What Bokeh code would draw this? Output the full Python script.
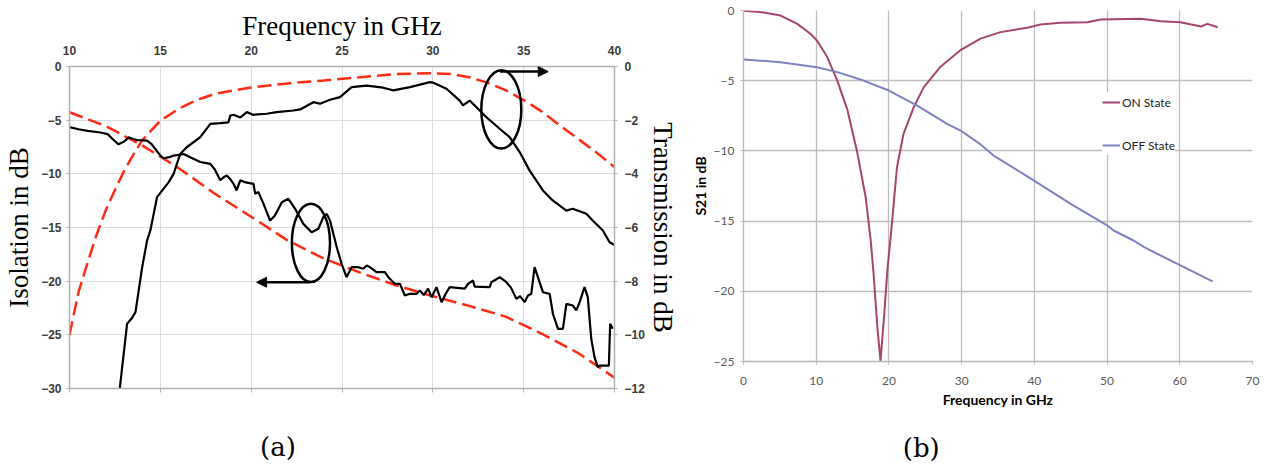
from bokeh.plotting import figure
from bokeh.models import (Range1d, LinearAxis, FixedTicker, Arrow, NormalHead,
                          Legend, LegendItem)
from bokeh.core.properties import value
from bokeh.layouts import row, column
from bokeh.embed import file_html
from bokeh.resources import INLINE

# ---------------- Panel (a) data ----------------
freq_ticks_a = [10, 15, 20, 25, 30, 35, 40]
iso_ticks = [-30, -25, -20, -15, -10, -5, 0]
trans_ticks = [-12, -10, -8, -6, -4, -2, 0]

# measured isolation (left axis, dB)
iso_meas_f = [10.0, 10.5, 11.0, 11.7, 12.1, 12.4, 12.7, 13.0, 13.26, 13.5, 13.72, 14.27, 14.5,
              14.73, 15.0, 15.18, 15.5, 15.73, 16.28, 16.7, 17.2, 17.75, 18.0, 18.3, 18.5, 18.66,
              18.85, 19.03, 19.2, 19.4, 19.7, 20.13, 20.22, 20.4, 20.68, 21.04, 21.3, 21.69, 22.05,
              22.42, 22.87, 23.33, 23.7, 23.97, 24.16, 24.34, 24.71, 24.98, 25.25, 25.53, 25.9,
              26.17, 26.36, 26.54, 26.9, 27.36, 27.55, 27.9, 28.19, 28.46, 28.74, 29.1, 29.29,
              29.5, 29.74, 29.93, 30.2, 30.48, 30.7, 30.93, 31.76, 31.94, 32.21, 32.3, 33.13,
              33.22, 33.68, 34.05, 34.3, 34.6, 34.8, 35.05, 35.24, 35.42, 35.6, 36.06, 36.43,
              36.61, 36.89, 37.16, 37.35, 37.71, 37.9, 38.08, 38.35, 38.53, 38.72, 38.9, 39.08,
              39.18, 39.69, 39.76, 39.9]
iso_meas_db = [-5.65, -5.85, -6.0, -6.15, -6.3, -6.8, -7.25, -7.0, -6.6, -6.75, -6.85, -6.9, -7.2,
               -7.7, -8.3, -8.55, -8.45, -8.3, -8.15, -8.5, -8.9, -9.07, -9.6, -10.6, -10.3, -10.16,
               -10.5, -10.93, -11.55, -10.6, -10.8, -10.93, -11.86, -11.7, -12.8, -14.35, -13.9,
               -12.64, -12.33, -13.26, -14.66, -15.44, -15.12, -14.04, -13.73, -14.35, -16.84,
               -18.38, -19.63, -18.7, -18.7, -18.85, -18.54, -18.7, -19.16, -19.16, -19.63, -20.25,
               -20.25, -21.34, -21.18, -21.18, -20.87, -21.3, -20.7, -21.49, -20.56, -21.96, -21.2,
               -20.56, -20.7, -20.25, -19.94, -20.5, -20.56, -20.1, -19.63, -20.1, -20.6, -21.65,
               -21.4, -21.96, -21.34, -21.18, -18.7, -21.03, -21.18, -23.04, -24.44, -24.44,
               -22.11, -22.27, -22.73, -21.96, -20.56, -21.49, -25.37, -27.08, -28.0, -27.86,
               -27.86, -23.97, -24.44]

# measured transmission (right axis, dB)
trans_meas_f = [12.7, 13.17, 13.44, 13.63, 14.0, 14.27, 14.45, 14.82, 15.46, 15.73, 16.1, 16.47,
                17.2, 17.75, 18.3, 18.75, 18.85, 19.03, 19.4, 19.76, 20.1, 20.86, 21.4, 22.32,
                22.7, 23.42, 23.79, 24.34, 24.89, 25.53, 26.36, 27.27, 27.82, 28.74, 29.84, 30.0,
                30.75, 31.48, 31.66, 32.03, 32.4, 32.95, 33.68, 34.23, 34.78, 35.33, 36.06, 36.6,
                37.35, 37.7, 38.45, 38.8, 39.36, 39.73, 40.0]
trans_meas_db = [-12.4, -9.59, -9.37, -9.16, -7.48, -6.49, -6.11, -4.87, -4.31, -4.0, -3.25, -3.0,
                 -2.63, -2.14, -2.11, -2.08, -1.83, -1.8, -1.9, -1.7, -1.8, -1.76, -1.7, -1.64,
                 -1.6, -1.33, -1.39, -1.24, -1.14, -0.77, -0.71, -0.79, -0.89, -0.77, -0.58, -0.6,
                 -0.83, -1.27, -1.45, -1.27, -1.52, -1.89, -2.32, -2.63, -3.19, -3.88, -4.62,
                 -4.99, -5.37, -5.3, -5.49, -5.74, -6.11, -6.55, -6.65]

# simulated isolation (left axis)
iso_sim_f = [10, 12, 14, 16, 18, 20, 22, 24, 26, 28, 30, 32, 34, 36, 38, 40]
iso_sim_db = [-4.26, -5.55, -7.35, -9.45, -11.85, -14.0, -16.2, -17.9, -19.2, -20.4, -21.4,
              -22.3, -23.3, -24.9, -26.7, -29.0]

# simulated transmission (right axis)
trans_sim_f = [10, 10.5, 11, 11.5, 12, 12.5, 13, 13.5, 14, 15, 16, 17, 18, 20, 22, 24, 26, 28,
               30, 31, 32, 33, 34, 35, 36, 37, 38, 39, 40]
trans_sim_db = [-10.0, -8.4, -7.3, -6.25, -5.35, -4.6, -3.9, -3.3, -2.75, -2.02, -1.58, -1.25,
                -1.02, -0.78, -0.63, -0.52, -0.4, -0.28, -0.25, -0.28, -0.4, -0.6, -0.88, -1.25,
                -1.68, -2.2, -2.7, -3.2, -3.75]

# annotation marks: ellipses (center f, center dB, width GHz, height dB) and arrows
ell_x = [23.29, 33.77]
ell_y = [-16.44, -4.0]
ell_w = [2.1, 2.2]
ell_h = [7.3, 7.3]
arrow_left = (23.24, -20.1, 20.3, -20.1)
arrow_right = (33.7, -0.47, 36.35, -0.47)

# ---------------- Panel (b) data ----------------
freq_ticks_b = [0, 10, 20, 30, 40, 50, 60, 70]
s21_ticks = [-25, -20, -15, -10, -5, 0]

on_f = [0, 2.5, 5.1, 7.4, 9.2, 10.1, 11.5, 12.9, 14.3, 15.6, 16.8, 17.5, 17.9, 18.4, 18.84,
        19.3, 19.8, 20.3, 21.1, 22.0, 23.4, 24.8, 27.1, 29.9, 32.6, 35.35, 39.0, 40.85, 43.6,
        47.3, 49.1, 54.6, 57.4, 60.1, 62.9, 63.8, 64.5, 65.2]
on_db = [-0.02, -0.12, -0.36, -0.95, -1.66, -2.14, -3.3, -5.0, -7.1, -10.0, -13.3, -16.4,
         -18.8, -22.5, -24.95, -22.0, -18.4, -15.8, -11.2, -8.8, -6.9, -5.46, -4.0, -2.8, -2.0,
         -1.54, -1.23, -1.0, -0.88, -0.83, -0.64, -0.59, -0.76, -0.83, -1.14, -0.95, -1.07,
         -1.19]

off_f = [0, 5.1, 10.1, 12.9, 16.5, 20, 23.9, 28.0, 29.85, 32.6, 34.4, 39.9, 45.0, 50.0, 50.9,
         53.7, 55.1, 60.1, 64.5]
off_db = [-3.49, -3.68, -4.04, -4.39, -4.99, -5.7, -6.77, -8.07, -8.55, -9.54, -10.33, -12.1,
          -13.77, -15.3, -15.67, -16.4, -16.86, -18.16, -19.3]

# panel captions (text, x position in the panel's own x units)
caption_a = ("(a)", 20.49)
caption_b = ("(b)", 21.9)

H = 420      # chart part height
HC = 48      # caption strip height

# ======================= Panel (a) =======================
RED = "#FF2A14"
p1 = figure(width=680, height=H, x_range=Range1d(10, 40), y_range=Range1d(-30, 0),
            x_axis_location="above", output_backend="svg", toolbar_location=None,
            min_border_left=69, min_border_right=66, min_border_top=66,
            min_border_bottom=H - 388)
p1.outline_line_color = None
p1.extra_y_ranges = {"tr": Range1d(-12, 0)}

tick_font = "Liberation Sans"
xa = p1.xaxis[0]
xa.ticker = FixedTicker(ticks=freq_ticks_a)
xa.axis_label = "Frequency in GHz"
xa.axis_label_text_font = "Liberation Serif"
xa.axis_label_text_font_style = "normal"
xa.axis_label_text_font_size = "27px"
xa.axis_label_text_color = "black"
xa.axis_label_standoff = 2
xa.major_label_standoff = 12
xa.major_tick_out = 0
xa.major_tick_in = 0
xa.minor_tick_out = 0
xa.minor_tick_in = 0

ya = p1.yaxis[0]
ya.ticker = FixedTicker(ticks=iso_ticks)
ya.axis_label = "Isolation in dB"
ya.axis_label_text_font = "Liberation Serif"
ya.axis_label_text_font_style = "normal"
ya.axis_label_text_font_size = "27px"
ya.axis_label_text_color = "black"
ya.axis_label_standoff = 4
ya.major_label_standoff = 5
ya.major_tick_out = 3
ya.major_tick_in = 0
ya.minor_tick_out = 0
ya.minor_tick_in = 0

ra = LinearAxis(y_range_name="tr", ticker=FixedTicker(ticks=trans_ticks),
                axis_label="Transmission in dB")
ra.axis_label_text_font = "Liberation Serif"
ra.axis_label_text_font_style = "normal"
ra.axis_label_text_font_size = "27px"
ra.axis_label_text_color = "black"
ra.axis_label_standoff = 0
ra.major_label_standoff = 7
ra.major_tick_out = 3
ra.major_tick_in = 0
ra.minor_tick_out = 0
ra.minor_tick_in = 0
p1.add_layout(ra, "right")

# bottom axis: tick marks only
ba = LinearAxis(ticker=FixedTicker(ticks=freq_ticks_a),
                major_label_overrides={t: "" for t in freq_ticks_a})
ba.major_tick_out = 4
ba.major_tick_in = 0
ba.minor_tick_out = 0
ba.minor_tick_in = 0
ba.major_label_standoff = 0
p1.add_layout(ba, "below")

for ax in (xa, ya, ra, ba):
    ax.major_label_text_font = tick_font
    ax.major_label_text_font_style = "bold"
    ax.major_label_text_font_size = "12px"
    ax.major_label_text_color = "#3a3a3a"
    ax.axis_line_color = "#B0B0B0"
    ax.axis_line_width = 1.5
    ax.major_tick_line_color = "#B0B0B0"

p1.xgrid.grid_line_color = "#DCDCDC"
p1.ygrid.grid_line_color = "#DCDCDC"
p1.xgrid.ticker = FixedTicker(ticks=freq_ticks_a)
p1.ygrid.ticker = FixedTicker(ticks=iso_ticks)

p1.line(iso_sim_f, iso_sim_db, line_color=RED, line_width=2.5, line_dash="14 6")
p1.line(trans_sim_f, trans_sim_db, line_color=RED, line_width=2.5, line_dash="14 6",
        y_range_name="tr")
p1.line(iso_meas_f, iso_meas_db, line_color="black", line_width=2.2)
p1.line(trans_meas_f, trans_meas_db, line_color="black", line_width=2.2, y_range_name="tr")

p1.ellipse(x=ell_x, y=ell_y, width=ell_w, height=ell_h, fill_color=None,
           line_color="black", line_width=2.5)
for (xs, ys, xe, ye) in (arrow_left, arrow_right):
    p1.add_layout(Arrow(end=NormalHead(size=10, fill_color="black", line_color="black"),
                        x_start=xs, y_start=ys, x_end=xe, y_end=ye,
                        line_color="black", line_width=2.5))

cap1 = figure(width=680, height=HC, x_range=Range1d(10, 40), y_range=Range1d(0, HC),
              x_axis_type=None, y_axis_type=None, output_backend="svg",
              toolbar_location=None, min_border_left=69, min_border_right=66,
              min_border_top=0, min_border_bottom=0)
cap1.outline_line_color = None
cap1.grid.visible = False
cap1.text(x=[caption_a[1]], y=[22], text=[caption_a[0]], text_font=value("DejaVu Serif"),
          text_font_size=value("26px"), text_baseline="alphabetic", text_align="left",
          text_color="black")

# ======================= Panel (b) =======================
ON_C = "#A5446F"
OFF_C = "#7E80C0"
W2 = 584
p2 = figure(width=W2, height=H, x_range=Range1d(0, 70), y_range=Range1d(-25, 0),
            output_backend="svg", toolbar_location=None,
            min_border_left=63, min_border_right=W2 - (1252 - 680), min_border_top=10,
            min_border_bottom=H - 361)
p2.outline_line_color = None

bx = p2.xaxis[0]
bx.ticker = FixedTicker(ticks=freq_ticks_b)
bx.axis_label = "Frequency in GHz"
bx.axis_label_standoff = 3
bx.major_label_standoff = 12
by = p2.yaxis[0]
by.ticker = FixedTicker(ticks=s21_ticks)
by.axis_label = "S21 in dB"
by.axis_label_standoff = 2
by.major_label_standoff = 6
for ax in (bx, by):
    ax.major_label_text_font = "Lato"
    ax.major_label_text_font_size = "12px"
    ax.major_label_text_color = "#595959"
    ax.axis_label_text_font = "Lato"
    ax.axis_label_text_font_style = "bold"
    ax.axis_label_text_font_size = "14px"
    ax.axis_label_text_color = "black"
    ax.axis_line_color = "#B8B8B8"
    ax.axis_line_width = 1.3
    ax.major_tick_line_color = "#B8B8B8"
    ax.major_tick_out = 3
    ax.major_tick_in = 0
    ax.minor_tick_out = 0
    ax.minor_tick_in = 0

p2.xgrid.ticker = FixedTicker(ticks=freq_ticks_b)
p2.ygrid.ticker = FixedTicker(ticks=s21_ticks)
p2.xgrid.grid_line_color = "#BDBDBD"
p2.ygrid.grid_line_color = "#BDBDBD"
p2.xgrid.grid_line_width = 1.3
p2.ygrid.grid_line_width = 1.3

r_on = p2.line(on_f, on_db, line_color=ON_C, line_width=2)
r_off = p2.line(off_f, off_db, line_color=OFF_C, line_width=2)

legend = Legend(items=[LegendItem(label="ON State", renderers=[r_on]),
                       LegendItem(label="OFF State", renderers=[r_off])],
                location=(359, 206), padding=15, spacing=23, label_height=20,
                glyph_height=20, glyph_width=18, label_standoff=2, margin=0,
                border_line_color=None, background_fill_color="white",
                background_fill_alpha=1.0, label_text_font="Lato",
                label_text_font_size="12px", label_text_color="#222222")
p2.add_layout(legend)

cap2 = figure(width=W2, height=HC, x_range=Range1d(0, 70), y_range=Range1d(0, HC),
              x_axis_type=None, y_axis_type=None, output_backend="svg",
              toolbar_location=None, min_border_left=63,
              min_border_right=W2 - (1252 - 680), min_border_top=0, min_border_bottom=0)
cap2.outline_line_color = None
cap2.grid.visible = False
cap2.text(x=[caption_b[1]], y=[21], text=[caption_b[0]], text_font=value("DejaVu Serif"),
          text_font_size=value("26px"), text_baseline="alphabetic", text_align="left",
          text_color="black")

layout = row(column(p1, cap1, spacing=0), column(p2, cap2, spacing=0), spacing=0)
open("out.html", "w").write(file_html(layout, INLINE))
